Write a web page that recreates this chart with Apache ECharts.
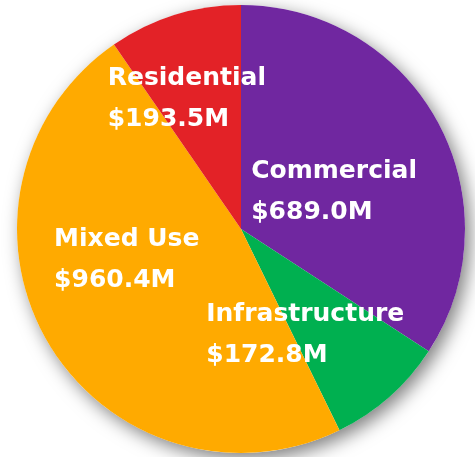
<!DOCTYPE html>
<html>
<head>
<meta charset="utf-8">
<script src="https://cdn.jsdelivr.net/npm/echarts@6/dist/echarts.min.js"></script>
<style>
  html, body { margin: 0; padding: 0; background: #fff; }
  #main { width: 475px; height: 457px; }
</style>
</head>
<body>
<div id="main"></div>
<script>
// sectors, clockwise from 12 o'clock
var categories = ["Commercial", "Infrastructure", "Mixed Use", "Residential"];
var values = [689.0, 172.8, 960.4, 193.5];   // $M
var colors = ["#7027A0", "#00B050", "#FFAA00", "#E32227"];

// nudges for the inside labels
var labelNudge = [[-8, 18], [-12, 20], [-15, -27], [-20, -20]];

var pieData = categories.map(function (name, i) {
    return { name: name, value: values[i], itemStyle: { color: colors[i] } };
});

var myChart = echarts.init(document.getElementById('main'));

var option = {
    animation: false,
    series: [{
        // plain disc underneath, only to cast the drop shadow
        type: 'pie',
        silent: true,
        center: [241, 229],
        radius: 224,
        label: { show: false },
        labelLine: { show: false },
        itemStyle: {
            color: '#ffffff',
            shadowBlur: 18,
            shadowOffsetX: 5,
            shadowOffsetY: 6,
            shadowColor: 'rgba(0,0,0,0.5)'
        },
        data: [1]
    }, {
        type: 'pie',
        center: [241, 229],
        radius: 224,
        startAngle: 90,
        clockwise: true,
        avoidLabelOverlap: false,
        itemStyle: { borderWidth: 0 },
        label: {
            show: true,
            position: 'inside',
            formatter: function (p) {
                return '{n|' + p.name + '}\n{n|$' + p.value.toFixed(1) + 'M}';
            },
            rich: {
                n: {
                    color: '#ffffff',
                    fontFamily: 'DejaVu Sans',
                    fontWeight: 'bold',
                    fontSize: 25,
                    lineHeight: 41,
                    align: 'left'
                }
            }
        },
        labelLine: { show: false },
        labelLayout: function (p) {
            var d = labelNudge[p.dataIndex];
            return { dx: d[0], dy: d[1] };
        },
        data: pieData
    }]
};

myChart.setOption(option);
</script>
</body>
</html>
